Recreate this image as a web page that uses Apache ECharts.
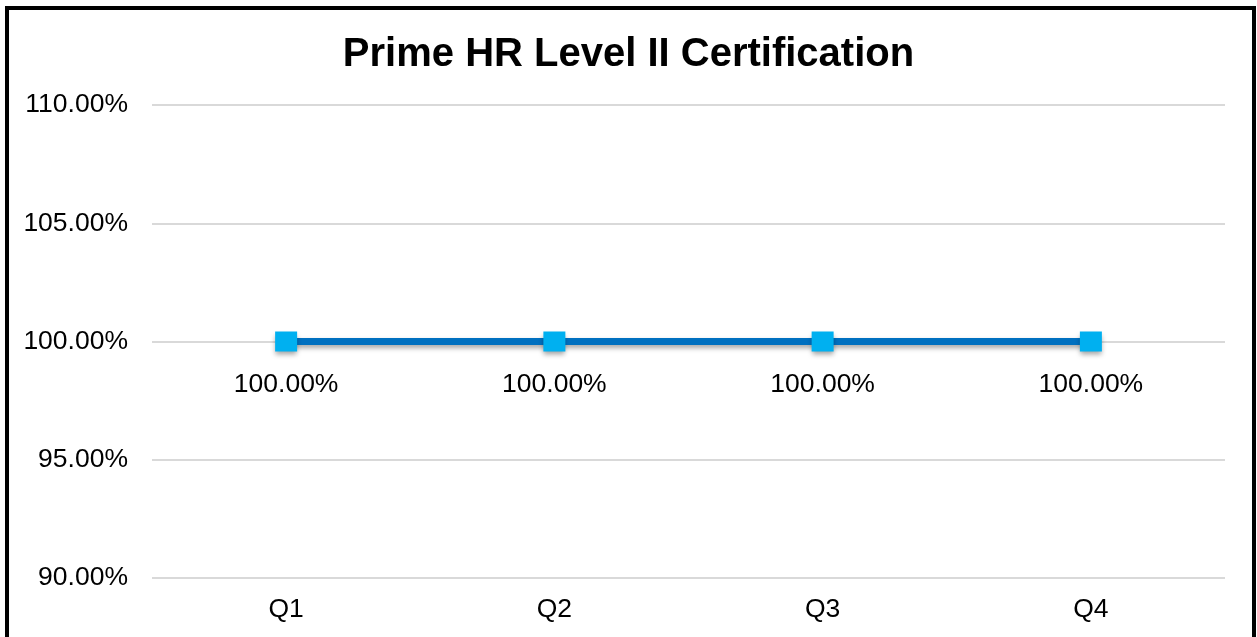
<!DOCTYPE html>
<html>
<head>
<meta charset="utf-8">
<script src="https://cdn.jsdelivr.net/npm/echarts@6/dist/echarts.min.js"></script>
<style>
  html, body { margin: 0; padding: 0; background: #fff; }
  #chart { width: 1257px; height: 637px; }
</style>
</head>
<body>
<div id="chart"></div>
<script>
const titleText = 'Prime HR Level II Certification';
const categories = ['Q1', 'Q2', 'Q3', 'Q4'];
const seriesValues = [100, 100, 100, 100];
const yMin = 90, yMax = 110, yStep = 5;

const FONT = '"Liberation Sans", Arial, sans-serif';
const chart = echarts.init(document.getElementById('chart'), null, { renderer: 'canvas' });
chart.setOption({
  backgroundColor: '#ffffff',
  animation: false,
  graphic: [{
    type: 'rect',
    shape: { x: 7, y: 8, width: 1247, height: 700 },
    style: { fill: 'none', stroke: '#000000', lineWidth: 4 },
    z: 100
  }],
  title: {
    text: titleText,
    left: 'center',
    top: 30,
    textStyle: { fontFamily: FONT, fontSize: 40, fontWeight: 'bold', color: '#000000' }
  },
  grid: { left: 152, right: 32, top: 105, bottom: 59, containLabel: false },
  xAxis: {
    type: 'category',
    data: categories,
    boundaryGap: true,
    axisLine: { show: false },
    axisTick: { show: false },
    axisLabel: { fontFamily: FONT, fontSize: 26.5, color: '#000000', margin: 18 }
  },
  yAxis: {
    type: 'value',
    min: yMin, max: yMax, interval: yStep,
    axisLine: { show: false },
    axisTick: { show: false },
    splitLine: { lineStyle: { color: '#d9d9d9', width: 2 } },
    axisLabel: {
      fontFamily: FONT, fontSize: 26.5, color: '#000000', margin: 24,
      padding: [5, 0, 0, 0],
      formatter: v => v.toFixed(2) + '%'
    }
  },
  series: [{
    type: 'line',
    data: seriesValues,
    symbol: 'rect',
    symbolSize: [22, 20],
    lineStyle: {
      color: '#0070C0', width: 7,
      shadowColor: 'rgba(0,0,0,0.35)', shadowBlur: 5, shadowOffsetY: 3
    },
    itemStyle: {
      color: '#00B0F0', borderWidth: 0,
      shadowColor: 'rgba(0,0,0,0.35)', shadowBlur: 5, shadowOffsetY: 3
    },
    label: {
      show: true,
      position: 'bottom',
      distance: 20,
      fontFamily: FONT, fontSize: 26.5, color: '#000000',
      formatter: p => p.value.toFixed(2) + '%'
    }
  }]
});
</script>
</body>
</html>
